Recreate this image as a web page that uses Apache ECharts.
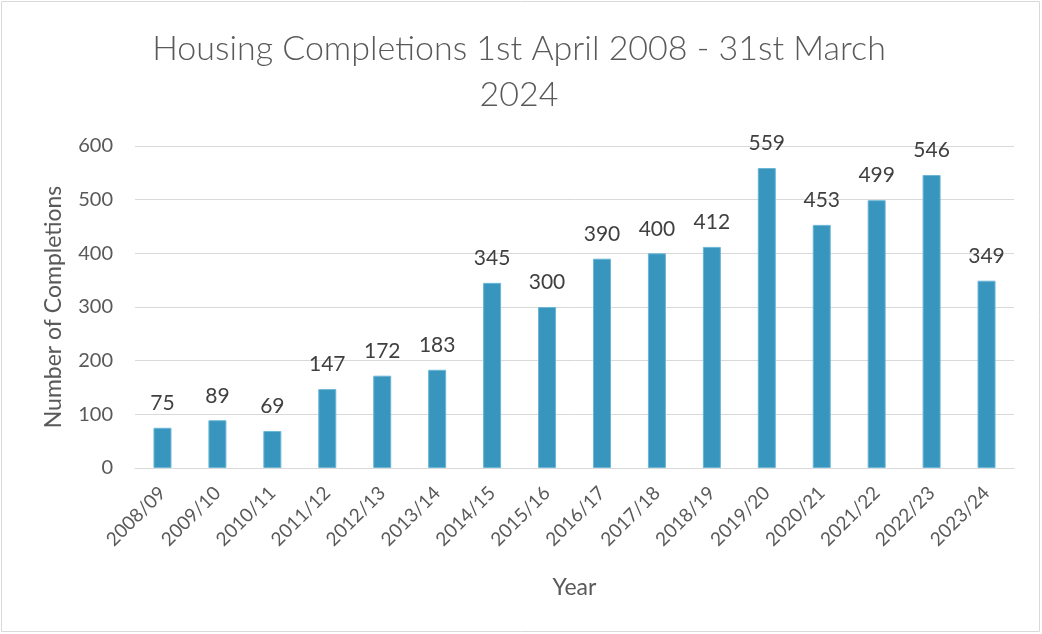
<!DOCTYPE html>
<html><head><meta charset="utf-8">
<script src="https://cdn.jsdelivr.net/npm/echarts@6/dist/echarts.min.js"></script>
<style>html,body{margin:0;padding:0;background:#fff}#c{width:1042px;height:634px}</style>
</head><body><div id="c"></div>
<script>
const categories = ["2008/09","2009/10","2010/11","2011/12","2012/13","2013/14","2014/15","2015/16","2016/17","2017/18","2018/19","2019/20","2020/21","2021/22","2022/23","2023/24"];
const completions = [75,89,69,147,172,183,345,300,390,400,412,559,453,499,546,349];
const yTicks = [0,100,200,300,400,500,600];
const titleText = "Housing Completions 1st April 2008 - 31st March\n2024";
const FONT = "Lato";
const chart = echarts.init(document.getElementById('c'));
chart.setOption({
  animation:false,
  graphic:[{type:'rect',shape:{x:1.5,y:1.5,width:1038,height:630},style:{fill:'none',stroke:'#d9d9d9',lineWidth:1}}],
  title:{text:titleText,left:514,top:21,textAlign:'center',textStyle:{fontFamily:FONT,fontSize:34,fontWeight:300,color:'#595959',lineHeight:46}},
  grid:{left:135,right:28,top:146,bottom:166},
  xAxis:{type:'category',data:categories,name:'Year',nameLocation:'middle',nameGap:108,
    nameTextStyle:{fontFamily:FONT,fontSize:23,color:'#595959'},
    axisLine:{lineStyle:{color:'#d9d9d9'}},axisTick:{show:false},
    axisLabel:{rotate:45,interval:0,fontFamily:FONT,fontSize:19,color:'#595959',margin:22}},
  yAxis:{type:'value',min:yTicks[0],max:yTicks[yTicks.length-1],interval:100,name:'Number of Completions',nameLocation:'middle',nameGap:70,
    nameTextStyle:{fontFamily:FONT,fontSize:23,color:'#595959'},
    axisLine:{show:false},axisTick:{show:false},
    splitLine:{lineStyle:{color:'#d9d9d9'}},
    axisLabel:{fontFamily:FONT,fontSize:20,color:'#595959',margin:22}},
  series:[{type:'bar',data:completions,barWidth:18,
    itemStyle:{color:'#3795BE',borderColor:'#6cb6d6',borderWidth:1},
    label:{show:true,position:'top',distance:14,fontFamily:FONT,fontSize:21,color:'#404040'}}]
});
</script></body></html>
